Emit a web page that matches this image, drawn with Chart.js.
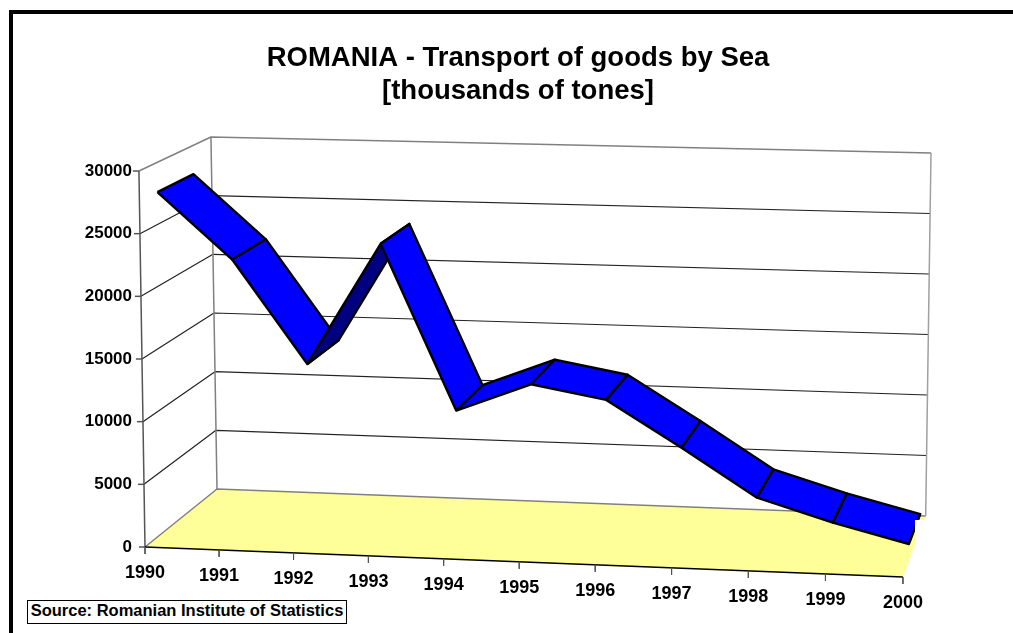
<!DOCTYPE html>
<html>
<head>
<meta charset="utf-8">
<title>ROMANIA - Transport of goods by Sea</title>
<script src="https://cdn.jsdelivr.net/npm/chart.js@4/dist/chart.umd.js"></script>
<style>
  html, body { margin: 0; background: #fff; }
  #wrap { position: relative; width: 1013px; height: 633px; overflow: hidden; }
  #frame { position: absolute; left: 9px; top: 10px; width: 1100px; height: 700px; border-top: 4px solid #000; border-left: 4px solid #000; }
  #source { position: absolute; left: 27px; top: 600px; width: 318px; height: 22px; line-height: 23px; border: 1px solid #000; background: #fff;
    font: bold 16.5px "Liberation Sans", Arial, sans-serif; text-align: center; white-space: nowrap; }
  /* white patch that cuts the floor's right corner in the reference */
  #patch { position: absolute; left: 915px; top: 520px; width: 16px; height: 26px; background: #fff; }
  canvas { position: absolute; left: 0; top: 0; }
</style>
</head>
<body>
<div id="wrap">
  <canvas id="chart" width="1013" height="633"></canvas>
  <div id="frame"></div>
  <div id="patch"></div>
  <div id="source">Source: Romanian Institute of Statistics</div>
</div>
<script>
const years = [1990, 1991, 1992, 1993, 1994, 1995, 1996, 1997, 1998, 1999, 2000];
const tonnes = [27600, 22300, 14050, 23900, 10700, 13000, 11950, 8350, 4600, 2850, 1400];
const yTicks = [0, 5000, 10000, 15000, 20000, 25000, 30000];
const titleLines = ['ROMANIA - Transport of goods by Sea', '[thousands of tones]'];

// corners of the 3D box, in axis units [year, value]
const box = {
  floorFrontLeft: [1990, 0], floorFrontRight: [2000, -2394],
  floorBackLeft: [1990.95, 4628], floorBackRight: [2000.3, 2473],
  topFrontLeft: [1989.92, 30000], topFrontRight: [2000.07, 28484],
  topBackLeft: [1990.87, 32713], topBackRight: [2000.37, 31436],
};
const ribbonFront = 0.25;
const ribbonBack = 0.75;
const risingDarkSegment = 2;

const lerp = (a, b, k) => a + (b - a) * k;

// i = category index, depth 0..1 front to back, v = value
function project(i, depth, v) {
  let t = i / 10;
  t = t - 0.025 * t * (1 - t);
  const h = v / 30000;
  const out = [0, 1].map((c) => {
    const floorFront = lerp(box.floorFrontLeft[c], box.floorFrontRight[c], t);
    const floorBack = lerp(box.floorBackLeft[c], box.floorBackRight[c], t);
    const topFront = lerp(box.topFrontLeft[c], box.topFrontRight[c], t);
    const topBack = lerp(box.topBackLeft[c], box.topBackRight[c], t);
    return lerp(lerp(floorFront, floorBack, depth), lerp(topFront, topBack, depth), h);
  });
  return { x: out[0], y: out[1] };
}

function shape(data, color, border, width) {
  return {
    data, clip: false, fill: color ? 'shape' : false, backgroundColor: color || 'transparent',
    borderColor: border, borderWidth: width, pointRadius: 0, tension: 0, borderJoinStyle: 'round',
  };
}

const datasets = [];

// floor
datasets.push(shape([
  project(0, 0, 0), project(0, 1, 0), project(10, 1, 0), project(10, 0, 0), project(0, 0, 0),
], '#FFFF99', 'transparent', 0));

// walls: grid lines run along the left wall and then along the back wall
yTicks.forEach((v) => {
  const edge = v === 0 || v === 30000;
  datasets.push(shape([project(0, 0, v), project(0, 1, v), project(10, 1, v)], null, edge ? '#808080' : '#222222', edge ? 1.5 : 1.2));
});
datasets.push(shape([project(0, 1, 30000), project(0, 1, 0)], null, '#808080', 1.5));
datasets.push(shape([project(10, 1, 30000), project(10, 1, 0)], null, '#A0A0A0', 1.5));
datasets.push(shape([project(0, 0, 0), project(0, 0, 30000)], null, '#555555', 1.5));
datasets.push(shape([project(0, 0, 0), project(10, 0, 0)], null, '#000000', 1.5));

// y tick marks, x tick marks
yTicks.forEach((v) => {
  const p = project(0, 0, v);
  datasets.push(shape([p, { x: p.x - 0.08, y: p.y }], null, '#555555', 1.5));
});
years.forEach((yr, i) => {
  const p = project(i, 0, 0);
  datasets.push(shape([p, { x: p.x, y: p.y - 560 }], null, '#555555', 1));
});

// ribbon, painted left to right
tonnes.slice(0, -1).forEach((v, i) => {
  const next = tonnes[i + 1];
  datasets.push(shape([
    project(i, ribbonFront, v), project(i + 1, ribbonFront, next),
    project(i + 1, ribbonBack, next), project(i, ribbonBack, v), project(i, ribbonFront, v),
  ], i === risingDarkSegment ? '#000080' : '#0000FF', '#000000', 2.4));
});

// chart.js paints the first dataset last
datasets.reverse();

const yearLabels = {
  id: 'yearLabels',
  afterDraw(chart) {
    const { ctx, scales } = chart;
    ctx.save();
    ctx.font = 'bold 18px "Liberation Sans", Arial, sans-serif';
    ctx.fillStyle = '#000';
    ctx.textAlign = 'center';
    ctx.textBaseline = 'middle';
    years.forEach((yr, i) => {
      const p = project(i, 0, 0);
      ctx.fillText(String(yr), scales.x.getPixelForValue(p.x), scales.y.getPixelForValue(p.y) + 26);
    });
    ctx.restore();
  },
};

new Chart(document.getElementById('chart'), {
  type: 'line',
  data: { datasets },
  plugins: [yearLabels],
  options: {
    responsive: false,
    animation: false,
    parsing: true,
    layout: { padding: { left: 33, right: 10, top: 10, bottom: 54.67 } },
    plugins: {
      legend: { display: false },
      tooltip: { enabled: false },
      title: {
        display: true,
        text: titleLines,
        color: '#000',
        font: { family: '"Liberation Sans", Arial, sans-serif', size: 27.5, weight: 'bold', lineHeight: 1.2 },
        padding: { top: 32, bottom: 63 },
      },
    },
    scales: {
      x: { type: 'linear', display: false, min: 1990, max: 2001.32 },
      y: {
        type: 'linear',
        min: -2500,
        max: 30000,
        afterFit: (scale) => { scale.width = 112; },
        afterBuildTicks: (scale) => { scale.ticks = yTicks.map((value) => ({ value })); },
        border: { display: false },
        grid: { display: false },
        ticks: {
          padding: 5,
          color: '#000',
          font: { family: '"Liberation Sans", Arial, sans-serif', size: 17, weight: 'bold' },
          callback: (v) => String(v),
        },
      },
    },
  },
});
</script>
</body>
</html>
